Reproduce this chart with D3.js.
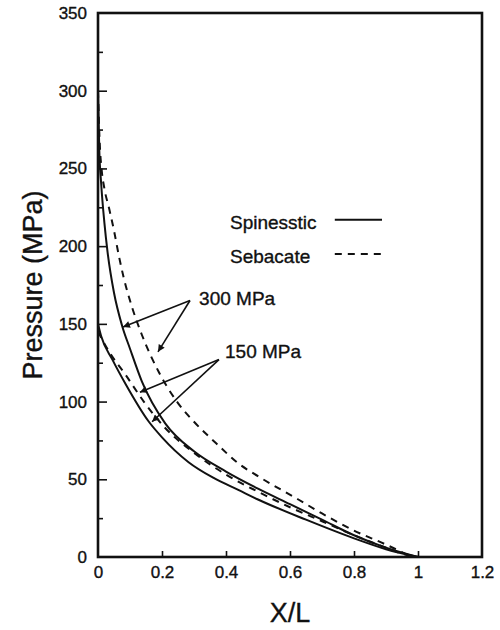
<!DOCTYPE html>
<html>
<head>
<meta charset="UTF-8">
<title>Pressure vs X/L</title>
<script src="https://cdn.jsdelivr.net/npm/d3@7"></script>
<style>
  body { margin: 0; background: #fff; }
  text { font-family: "Liberation Sans", Arial, sans-serif; fill: #111; stroke: #111; stroke-width: 0.35; }
</style>
</head>
<body>
<svg id="chart" width="500" height="630"></svg>
<script>
// tick values
const xTicks = [0, 0.2, 0.4, 0.6, 0.8, 1, 1.2]
const yTicks = [0, 50, 100, 150, 200, 250, 300, 350]
const yMinorTicks = [25, 75, 125, 175, 225, 275, 325]

// curves, [X/L, pressure MPa]
const spinesstic300 = [[0, 300], [0.004, 262], [0.01, 240], [0.02, 215], [0.03, 196], [0.05, 170], [0.075, 149],
  [0.1, 134], [0.137, 113], [0.21, 86], [0.3, 68], [0.4, 55], [0.5, 44], [0.6, 34], [0.7, 24], [0.8, 14], [0.9, 6], [1, 0]]
const sebacate300 = [[0, 300], [0.005, 268], [0.012, 248], [0.02, 237], [0.035, 224], [0.05, 210], [0.065, 194],
  [0.08, 180], [0.106, 161], [0.137, 143], [0.19, 119], [0.25, 99], [0.3, 87], [0.37, 73], [0.44, 60], [0.5, 52],
  [0.626, 37], [0.7, 28], [0.8, 17], [0.9, 8], [0.98, 0]]
const spinesstic150 = [[0, 150], [0.01, 142], [0.045, 127], [0.087, 111], [0.159, 87], [0.2, 77], [0.283, 61],
  [0.36, 51], [0.44, 43], [0.5, 37], [0.65, 24], [0.8, 12], [0.9, 5], [1, 0]]
const sebacate150 = [[0, 145], [0.035, 132], [0.087, 117], [0.143, 100], [0.21, 83], [0.3, 67], [0.4, 53],
  [0.5, 42], [0.6, 32], [0.7, 23], [0.8, 14], [0.9, 6], [0.97, 1], [1, 0]]

const legendNames = ['Spinesstic', 'Sebacate']

// annotation arrows: label position and arrow tips, in data units
const notes = [
  { text: '300 MPa', at: [0.316, 162], from: [0.2875, 165], tips: [[0.078, 148], [0.1875, 132]] },
  { text: '150 MPa', at: [0.397, 128], from: [0.378, 127], tips: [[0.131, 106], [0.169, 87]] }
]

const svg = d3.select('#chart')
const x = d3.scaleLinear().domain([0, 1.2]).range([98, 482])
const y = d3.scaleLinear().domain([0, 350]).range([557, 13])

svg.append('defs').append('marker')
  .attr('id', 'head')
  .attr('viewBox', '0 0 10 10')
  .attr('refX', 10).attr('refY', 5)
  .attr('markerWidth', 9).attr('markerHeight', 7)
  .attr('markerUnits', 'userSpaceOnUse')
  .attr('orient', 'auto')
  .append('path').attr('d', 'M0,0L10,5L0,10z').attr('fill', '#111')

// axes, ticks pointing inward
const xAxis = svg.append('g')
  .attr('transform', 'translate(0,' + y(0) + ')')
  .call(d3.axisBottom(x).tickValues(xTicks).tickSize(-6).tickPadding(9).tickFormat(d => d))
const yAxis = svg.append('g')
  .attr('transform', 'translate(' + x(0) + ',0)')
  .call(d3.axisLeft(y).tickValues(yTicks).tickSize(-9).tickPadding(11).tickFormat(d => d))
svg.append('g')
  .attr('transform', 'translate(' + x(0) + ',0)')
  .call(d3.axisLeft(y).tickValues(yMinorTicks).tickSize(-5).tickFormat(''))
  .select('.domain').remove()

svg.selectAll('.domain').remove()
svg.selectAll('.tick line').attr('stroke', '#111').attr('stroke-width', 1.6)
svg.selectAll('.tick text').attr('font-size', 17).attr('fill', '#111')
  .attr('font-family', '"Liberation Sans", Arial, sans-serif')
xAxis.selectAll('.tick').filter(d => d === 0 || d === 1.2).select('line').remove()
yAxis.selectAll('.tick').filter(d => d === 0 || d === 350).select('line').remove()

// frame
svg.append('rect')
  .attr('x', x(0)).attr('y', y(350))
  .attr('width', x(1.2) - x(0)).attr('height', y(0) - y(350))
  .attr('fill', 'none').attr('stroke', '#111').attr('stroke-width', 2.6)

// curves
const line = d3.line()
  .x(d => x(d[0]))
  .y(d => y(d[1]))
  .curve(d3.curveMonotoneX)

const curves = [
  { data: spinesstic300, dash: null },
  { data: sebacate300, dash: '7,6' },
  { data: spinesstic150, dash: null },
  { data: sebacate150, dash: '7,6' }
]
svg.append('g').selectAll('path')
  .data(curves)
  .join('path')
  .attr('d', d => line(d.data))
  .attr('fill', 'none')
  .attr('stroke', '#111')
  .attr('stroke-width', 2)
  .attr('stroke-dasharray', d => d.dash)

// legend
const legend = svg.append('g')
legendNames.forEach((name, i) => {
  const yy = i === 0 ? 217 : 195
  legend.append('text').attr('x', x(0.4125)).attr('y', y(yy) + 9)
    .attr('font-size', 19).text(name)
  legend.append('line')
    .attr('x1', x(0.74)).attr('x2', x(0.8875))
    .attr('y1', y(yy)).attr('y2', y(yy))
    .attr('stroke', '#111').attr('stroke-width', 2)
    .attr('stroke-dasharray', i === 1 ? '7,6' : null)
})

// annotations
notes.forEach(n => {
  svg.append('text')
    .attr('x', x(n.at[0])).attr('y', y(n.at[1]))
    .attr('font-size', 19).text(n.text)
  n.tips.forEach(t => {
    svg.append('line')
      .attr('x1', x(n.from[0])).attr('y1', y(n.from[1]))
      .attr('x2', x(t[0])).attr('y2', y(t[1]))
      .attr('stroke', '#111').attr('stroke-width', 1.6)
      .attr('marker-end', 'url(#head)')
  })
})

// axis titles
svg.append('text')
  .attr('x', x(0.6)).attr('y', 622)
  .attr('text-anchor', 'middle')
  .attr('font-size', 27)
  .text('X/L')
svg.append('text')
  .attr('transform', 'translate(42,' + y(175) + ') rotate(-90)')
  .attr('text-anchor', 'middle')
  .attr('font-size', 27)
  .text('Pressure (MPa)')
</script>
</body>
</html>
